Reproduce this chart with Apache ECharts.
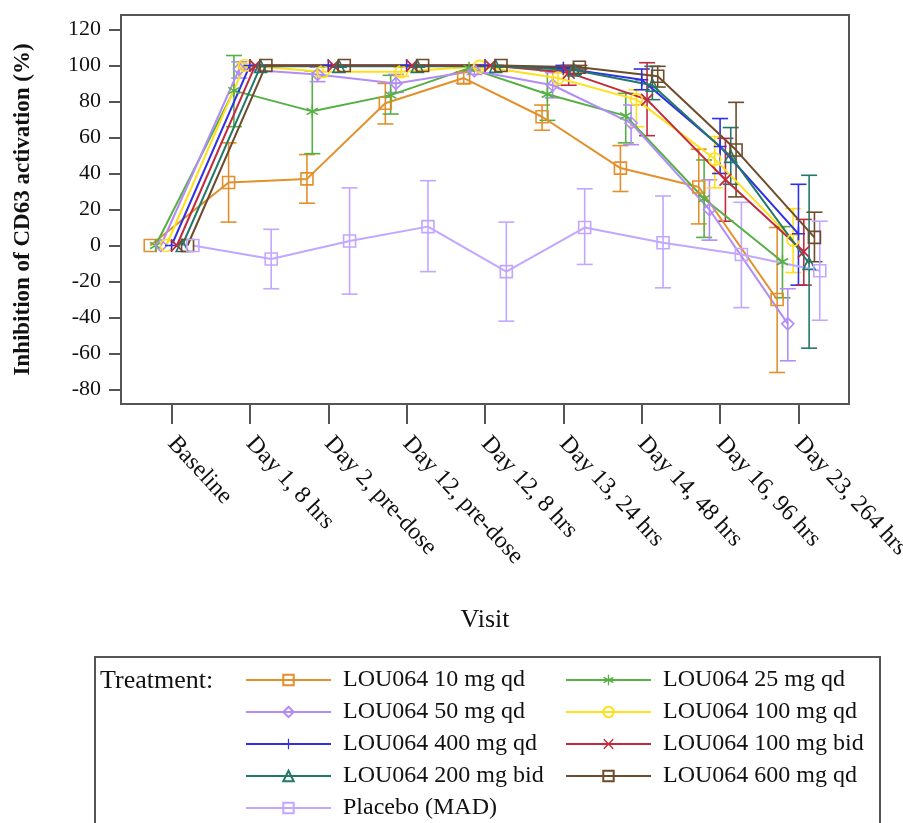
<!DOCTYPE html>
<html>
<head>
<meta charset="utf-8">
<script src="https://cdn.jsdelivr.net/npm/echarts@6/dist/echarts.min.js"></script>
<style>
  html, body { margin: 0; padding: 0; background: #fff; }
  #chart { width: 903px; height: 823px; }
</style>
</head>
<body>
<div id="chart"></div>
<script>
// visits on the x axis
const visits = ['Baseline', 'Day 1, 8 hrs', 'Day 2, pre-dose', 'Day 12, pre-dose', 'Day 12, 8 hrs',
  'Day 13, 24 hrs', 'Day 14, 48 hrs', 'Day 16, 96 hrs', 'Day 23, 264 hrs'];
const yTicks = [-80, -60, -40, -20, 0, 20, 40, 60, 80, 100, 120];

const names = ['LOU064 10 mg qd', 'LOU064 25 mg qd', 'LOU064 50 mg qd', 'LOU064 100 mg qd',
  'LOU064 400 mg qd', 'LOU064 100 mg bid', 'LOU064 200 mg bid', 'LOU064 600 mg qd', 'Placebo (MAD)'];

// mean / lower / upper per treatment
const mean10 = [0, 35, 37, 79, 93, 71.5, 43, 32.5, -30];
const lo10 = [0, 13, 23.5, 67.5, 90, 64, 30, 12, -70.5];
const hi10 = [0, 57, 50.5, 90, 96.5, 78, 55.5, 53.5, 10];

const mean25 = [0, 86, 74.5, 83.5, 98.5, 84, 72, 26, -9];
const lo25 = [0, 66, 51, 73, 97, 69.5, 57, 4.5, -29];
const hi25 = [0, 105.5, 97, 94.5, 100, 97, 84.5, 47.5, 10.5];

const mean50 = [0, 98, 95, 90, 97, 89, 68, 20, -43.5];
const lo50 = [0, 93, 91, 85, 95, 82, 56, 3, -64];
const hi50 = [0, 102, 99, 95, 99, 96, 78, 36.5, -24];

const mean100 = [0, 100, 96.5, 96.5, 99.5, 93, 81, 48, 3];
const lo100 = [0, 99, 94, 94, 98, 89, 66, 32, -15];
const hi100 = [0, 101, 99, 99, 100.5, 97.5, 86.5, 60.5, 20.5];

const mean400 = [0, 100, 100, 100, 100, 98.5, 92, 55, 6.5];
const lo400 = [0, 100, 100, 100, 100, 97, 86.5, 40, -22];
const hi400 = [0, 100, 100, 100, 100, 100, 98, 70.5, 34];

const mean100b = [0, 100, 100, 100, 100, 96, 81, 36.5, -3.5];
const lo100b = [0, 100, 100, 100, 100, 89, 61, 13.5, -22];
const hi100b = [0, 100, 100, 100, 100, 100, 101.5, 59.5, 14.5];

const mean200b = [0, 99.5, 99.5, 99.5, 99.5, 97.5, 89, 49.5, -10];
const lo200b = [0, 99, 99, 99, 99, 95, 81, 34, -57];
const hi200b = [0, 100, 100, 100, 100, 99.5, 99.5, 65.5, 39];

const mean600 = [0, 100, 100, 100, 100, 99, 94, 53, 4.5];
const lo600 = [0, 100, 100, 100, 100, 98, 88, 27, -9];
const hi600 = [0, 100, 100, 100, 100, 100, 99.5, 79.5, 18.5];

const meanPbo = [0, -7.5, 2.5, 10.5, -14.5, 10, 1.5, -5, -14];
const loPbo = [0, -24, -27, -14.5, -42, -10.5, -23.5, -34.5, -41.5];
const hiPbo = [0, 9, 32, 36, 13, 31.5, 27.5, 24, 13.5];

const means = [mean10, mean25, mean50, mean100, mean400, mean100b, mean200b, mean600, meanPbo];
const lows = [lo10, lo25, lo50, lo100, lo400, lo100b, lo200b, lo600, loPbo];
const highs = [hi10, hi25, hi50, hi100, hi400, hi100b, hi200b, hi600, hiPbo];

const colors = ['#E3902C', '#55B043', '#B28CF7', '#FFE01A', '#2F2FE6', '#C22A3E', '#22786A', '#6E4B2A', '#C2A6FF'];

// thin bar path between two points (for +, x, * markers)
function bar(x1, y1, x2, y2, w) {
  const dx = x2 - x1, dy = y2 - y1, len = Math.sqrt(dx * dx + dy * dy);
  const nx = -dy / len * w, ny = dx / len * w;
  return 'M' + (x1 + nx) + ',' + (y1 + ny) + 'L' + (x2 + nx) + ',' + (y2 + ny) +
    'L' + (x2 - nx) + ',' + (y2 - ny) + 'L' + (x1 - nx) + ',' + (y1 - ny) + 'Z';
}
const plusPath = 'path://' + bar(0, -6, 0, 6, 0.7) + bar(-6, 0, 6, 0, 0.7);
const crossPath = 'path://' + bar(-5, -5, 5, 5, 0.75) + bar(-5, 5, 5, -5, 0.75);
const starPath = 'path://' + bar(0, -6, 0, 6, 0.7) + bar(-5.2, -3, 5.2, 3, 0.7) + bar(-5.2, 3, 5.2, -3, 0.7);

const symbols = ['rect', starPath, 'diamond', 'circle', plusPath, crossPath, 'triangle', 'rect', 'rect'];
const hollow = [true, false, true, true, false, false, true, true, true];

const step = 0.068;
const font = 'Liberation Serif';

function errRender(params, api) {
  const x = api.value(0), lo = api.value(1), hi = api.value(2);
  const a = api.coord([x, lo]), b = api.coord([x, hi]);
  const cap = 8;
  const style = { stroke: api.visual('color'), lineWidth: 1.6, fill: null };
  return {
    type: 'group',
    children: [
      { type: 'line', shape: { x1: a[0], y1: a[1], x2: b[0], y2: b[1] }, style: style },
      { type: 'line', shape: { x1: a[0] - cap, y1: a[1], x2: a[0] + cap, y2: a[1] }, style: style },
      { type: 'line', shape: { x1: b[0] - cap, y1: b[1], x2: b[0] + cap, y2: b[1] }, style: style }
    ]
  };
}

const series = [];
names.forEach((name, s) => {
  const off = (s - 4) * step;
  series.push({
    name: name + ' err',
    type: 'custom',
    renderItem: errRender,
    itemStyle: { color: colors[s] },
    data: visits.map((v, i) => [i + off, lows[s][i], highs[s][i]]).filter(d => d[2] > d[1]),
    z: 2
  });
});
names.forEach((name, s) => {
  const off = (s - 4) * step;
  const c = colors[s];
  series.push({
    name: name,
    type: 'line',
    data: visits.map((v, i) => [i + off, means[s][i]]),
    symbol: symbols[s],
    symbolSize: hollow[s] ? 12 : 13,
    symbolKeepAspect: true,
    lineStyle: { color: c, width: 2 },
    itemStyle: hollow[s]
      ? { color: 'rgba(255,255,255,0)', borderColor: c, borderWidth: 1.6 }
      : { color: c, borderWidth: 0 },
    emphasis: { disabled: true },
    z: 3
  });
});

// one legend per entry: two columns, five rows
const legendCols = [245, 565];
const legends = names.map((name, s) => ({
  data: [name],
  left: legendCols[s % 2],
  top: 668 + 32 * Math.floor(s / 2),
  padding: 0,
  itemWidth: 85,
  itemHeight: 13,
  textStyle: { fontFamily: font, fontSize: 24, color: '#111', lineHeight: 24, padding: [0, 0, 0, 7] }
}));

const chart = echarts.init(document.getElementById('chart'));
chart.setOption({
  backgroundColor: '#fff',
  animation: false,
  grid: {
    left: 121, right: 54, top: 15, bottom: 419,
    outerBoundsMode: 'none',
    show: true, borderColor: '#555', borderWidth: 2
  },
  xAxis: {
    type: 'value',
    min: -0.645,
    max: 8.645,
    name: 'Visit',
    nameLocation: 'middle',
    nameGap: 203,
    nameTextStyle: { fontFamily: font, fontSize: 26, color: '#111' },
    axisLine: { onZero: false, lineStyle: { color: '#555', width: 2 } },
    axisTick: { length: 20, customValues: visits.map((v, i) => i), lineStyle: { color: '#555', width: 2 } },
    axisLabel: {
      customValues: visits.map((v, i) => i),
      formatter: v => visits[Math.round(v)],
      rotate: -47,
      margin: 36,
      fontFamily: font,
      fontSize: 24,
      color: '#111'
    },
    splitLine: { show: false }
  },
  yAxis: {
    type: 'value',
    min: -88,
    max: 128,
    name: 'Inhibition of CD63 activation (%)',
    nameLocation: 'middle',
    nameGap: 86,
    nameTextStyle: { fontFamily: font, fontSize: 23, fontWeight: 'bold', color: '#111' },
    axisLine: { show: true, onZero: false, lineStyle: { color: '#555', width: 2 } },
    axisTick: { show: true, length: 12, customValues: yTicks, lineStyle: { color: '#555', width: 2 } },
    axisLabel: { customValues: yTicks, margin: 20, fontFamily: font, fontSize: 22, color: '#111' },
    splitLine: { show: false }
  },
  legend: legends,
  graphic: [
    { type: 'rect', shape: { x: 95, y: 657, width: 785, height: 220 },
      style: { fill: null, stroke: '#555', lineWidth: 2 }, silent: true },
    { type: 'text', x: 100, y: 681,
      style: { text: 'Treatment:', font: '26px "Liberation Serif"', fill: '#111', verticalAlign: 'middle' } }
  ],
  series: series
});
</script>
</body>
</html>
